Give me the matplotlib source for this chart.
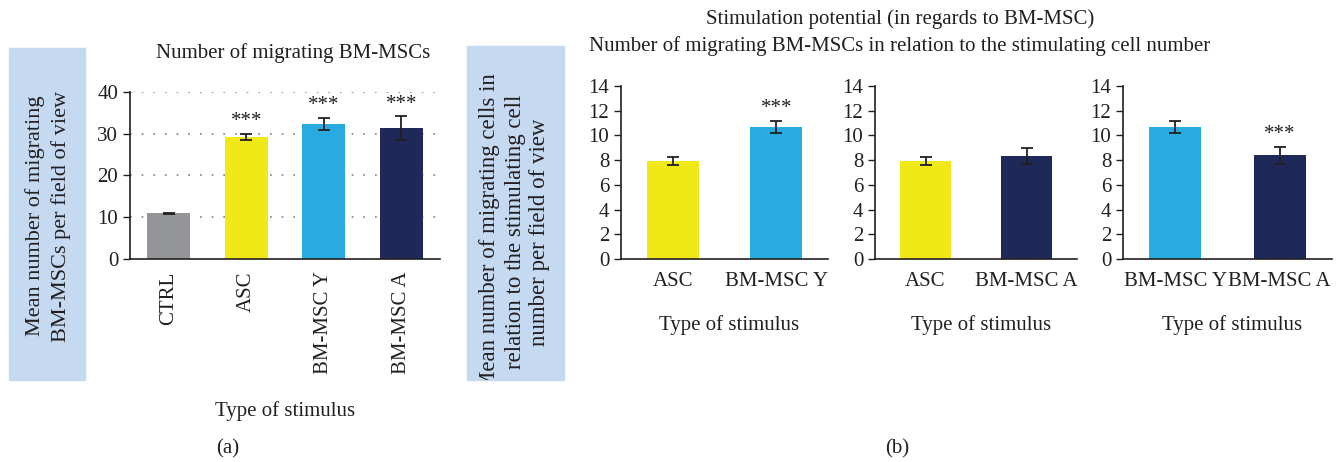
import numpy as np
import matplotlib.pyplot as plt
from matplotlib.patches import Rectangle

plt.rcParams['font.family'] = ['Liberation Serif', 'DejaVu Serif']

W, H = 1342, 462

# panel (a)
cats_a = ["CTRL", "ASC", "BM-MSC Y", "BM-MSC A"]
vals_a = [10.9, 29.2, 32.3, 31.3]
errs_a = [0.1, 0.8, 1.5, 2.8]
stars_a = ["", "***", "***", "***"]

# panel (b)
cats_b = [["ASC", "BM-MSC Y"], ["ASC", "BM-MSC A"], ["BM-MSC Y", "BM-MSC A"]]
vals_b = [[7.9, 10.7], [7.9, 8.35], [10.7, 8.4]]
errs_b = [[0.33, 0.5], [0.33, 0.66], [0.5, 0.68]]
stars_b = [["", "***"], ["", ""], ["", "***"]]

colors = {"CTRL": "#939598", "ASC": "#f0e917",
          "BM-MSC Y": "#29abe2", "BM-MSC A": "#1e2859"}
box_col = "#c5d9f0"
fs = 15


def px_axes(fig, left, top, right, bottom):
    return fig.add_axes([left / W, 1 - bottom / H, (right - left) / W, (bottom - top) / H])


def style(ax):
    for s in ["top", "right"]:
        ax.spines[s].set_visible(False)
    for s in ["left", "bottom"]:
        ax.spines[s].set_color("#231f20")
        ax.spines[s].set_linewidth(1.2)
    ax.tick_params(labelsize=fs, colors="#231f20", width=1.0, length=5)
    ax.tick_params(axis="x", length=0)


def px_text(fig, x, y, s, **kw):
    return fig.text(x / W, 1 - y / H, s, ha="center", va="center", color="#231f20", **kw)


def box(fig, left, top, right, bottom):
    r = Rectangle((left / W, 1 - bottom / H), (right - left) / W, (bottom - top) / H,
                  transform=fig.transFigure, color=box_col, zorder=0)
    fig.patches.append(r)
    return r


fig = plt.figure(figsize=(W / 100, H / 100), dpi=100)

# ---- (a)
r = box(fig, 9, 48, 85, 380)
t = px_text(fig, 48, 216, "Mean number of migrating\nBM-MSCs per field of view",
            rotation=90, fontsize=16, linespacing=1.35)
t.set_clip_path(r)

ax = px_axes(fig, 130, 91.7, 440, 259)
x = np.arange(len(cats_a))
ax.bar(x, vals_a, width=0.55, color=[colors[c] for c in cats_a], zorder=2)
ax.errorbar(x, vals_a, yerr=errs_a, fmt="none", ecolor="#231f20",
            elinewidth=1.3, capsize=4, capthick=1.3, zorder=3)
for xi, v, e, s in zip(x, vals_a, errs_a, stars_a):
    if s:
        ax.text(xi, v + e + 0.6, s, ha="center", va="bottom", fontsize=fs, color="#231f20")
ax.set_xlim(-0.5, 3.5)
ax.set_ylim(0, 40)
ax.set_yticks([0, 10, 20, 30, 40])
ax.yaxis.grid(True, linestyle=(0, (1, 6)), color="#808080", linewidth=1.2)
ax.set_axisbelow(True)
ax.set_xticks(x)
ax.set_xticklabels(cats_a, rotation=90)
style(ax)
ax.tick_params(axis="x", pad=9)
px_text(fig, 293, 53, "Number of migrating BM-MSCs", fontsize=fs)
px_text(fig, 285, 411, "Type of stimulus", fontsize=fs)
px_text(fig, 228, 449, "(a)", fontsize=fs)

# ---- (b)
r = box(fig, 467, 46, 564, 380)
t = px_text(fig, 515, 232, "Mean number of migrating cells in\nrelation to the stimulating cell\nnumber per field of view",
            rotation=90, fontsize=16.5, linespacing=1.25)
t.set_clip_path(r)

spans = [(621, 828), (875, 1077), (1123, 1332)]
for (l, rt), cats, vals, errs, stars in zip(spans, cats_b, vals_b, errs_b, stars_b):
    ax = px_axes(fig, l, 86, rt, 259)
    xb = np.arange(len(cats))
    ax.bar(xb, vals, width=0.5, color=[colors[c] for c in cats], zorder=2)
    ax.errorbar(xb, vals, yerr=errs, fmt="none", ecolor="#231f20",
                elinewidth=1.3, capsize=4, capthick=1.3, zorder=3)
    for xi, v, e, s in zip(xb, vals, errs, stars):
        if s:
            ax.text(xi, v + e + 0.2, s, ha="center", va="bottom", fontsize=fs, color="#231f20")
    ax.set_xlim(-0.5, 1.5)
    ax.set_ylim(0, 14)
    ax.set_yticks(np.arange(0, 15, 2))
    ax.set_xticks(xb)
    ax.set_xticklabels(cats)
    style(ax)
    ax.tick_params(axis="x", pad=9)
    px_text(fig, (l + rt) / 2 + 5, 325, "Type of stimulus", fontsize=fs)

px_text(fig, 900, 19, "Stimulation potential (in regards to BM-MSC)", fontsize=fs)
px_text(fig, 900, 46, "Number of migrating BM-MSCs in relation to the stimulating cell number", fontsize=fs)
px_text(fig, 897, 449, "(b)", fontsize=fs)

fig.savefig("out.png", dpi=100)
